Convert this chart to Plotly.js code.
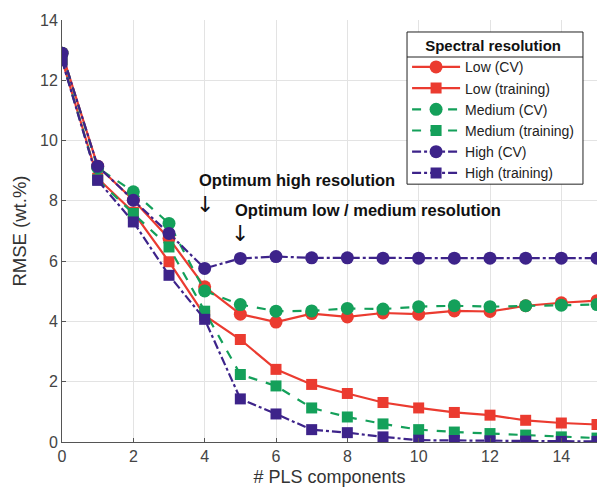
<!DOCTYPE html>
<html><head><meta charset="utf-8">
<script src="https://cdn.plot.ly/plotly-3.0.1.min.js"></script>
<style>html,body{margin:0;padding:0;background:#fff}</style>
</head><body><div id="chart" style="width:597px;height:492px"></div>
<script>
const components = [0,1,2,3,4,5,6,7,8,9,10,11,12,13,14,15];
const lowCV = [12.9,9.15,8.03,6.75,5.15,4.24,3.98,4.26,4.15,4.28,4.24,4.35,4.33,4.52,4.62,4.69];
const lowTrain = [12.68,8.75,7.62,5.98,4.2,3.4,2.41,1.91,1.61,1.31,1.13,0.98,0.89,0.72,0.63,0.58];
const medCV = [12.9,9.1,8.3,7.25,5.01,4.56,4.34,4.35,4.43,4.41,4.49,4.52,4.49,4.52,4.54,4.56];
const medTrain = [12.68,8.7,7.58,6.47,4.34,2.24,1.86,1.13,0.83,0.6,0.41,0.33,0.28,0.23,0.17,0.13];
const highCV = [12.9,9.15,8.02,6.92,5.76,6.09,6.15,6.11,6.11,6.1,6.1,6.1,6.1,6.1,6.1,6.1];
const highTrain = [12.66,8.68,7.3,5.53,4.07,1.43,0.93,0.41,0.31,0.17,0.06,0.05,0.04,0.03,0.02,0.02];
const seriesNames = ["Low (CV)","Low (training)","Medium (CV)","Medium (training)","High (CV)","High (training)"];
const legendTitle = "Spectral resolution";
const annHigh = {x:4, label:"Optimum high resolution"};
const annLow = {x:5, label:"Optimum low / medium resolution"};

const RED = "#eb3b30", GREEN = "#14a05a", PURPLE = "#3d238a";
function tr(y, name, color, dash, symbol){
  return {x: components, y: y, name: name, type: "scatter", mode: "lines+markers",
    line: {color: color, width: 2.2, dash: dash},
    marker: {color: color, symbol: symbol, size: symbol==="circle"?13:11},
    cliponaxis: true};
}
const data = [
  tr(lowCV, seriesNames[0], RED, "solid", "circle"),
  tr(lowTrain, seriesNames[1], RED, "solid", "square"),
  tr(medCV, seriesNames[2], GREEN, "dash", "circle"),
  tr(medTrain, seriesNames[3], GREEN, "dash", "square"),
  tr(highCV, seriesNames[4], PURPLE, "dashdot", "circle"),
  tr(highTrain, seriesNames[5], PURPLE, "dashdot", "square")
];
const font = "Liberation Sans, Arial, sans-serif";
const arrowFont = {family: "DejaVu Sans", size: 22, color: "#111"};
const layout = {
  width: 597, height: 492,
  margin: {l: 62, r: 0, t: 20, b: 50},
  paper_bgcolor: "#fff", plot_bgcolor: "#fff",
  font: {family: font, color: "#333", size: 15},
  showlegend: true,
  legend: {x: 0.645, y: 0.972, xanchor: "left", yanchor: "top",
    bgcolor: "rgba(0,0,0,0)", borderwidth: 0, itemwidth: 48,
    font: {family: font, size: 14, color: "#222"},
    title: {text: "<b>" + legendTitle + "</b>", side: "top center", font: {size: 15, color: "#111"}},
    tracegroupgap: 0},
  shapes: [
    {type: "rect", xref: "paper", yref: "paper", x0: 0.6449, x1: 0.9738, y0: 0.611, y1: 0.9716,
      fillcolor: "#fff", line: {color: "#222", width: 1}, layer: "above"},
    {type: "line", xref: "paper", yref: "paper", x0: 0.6449, x1: 0.9738, y0: 0.9123, y1: 0.9123,
      line: {color: "#222", width: 1}, layer: "above"}
  ],
  xaxis: {range: [0, 15], tickvals: [0,2,4,6,8,10,12,14], showgrid: true, gridcolor: "#e3e3e3",
    zeroline: false, showline: true, linecolor: "#555", linewidth: 1, ticks: "inside", ticklen: 4, tickcolor: "#555",
    tickfont: {size: 16, color: "#444"},
    title: {text: "# PLS components", font: {size: 18, color: "#333"}, standoff: 6}},
  yaxis: {range: [0, 14], tickvals: [0,2,4,6,8,10,12,14], showgrid: true, gridcolor: "#e3e3e3",
    zeroline: false, showline: true, linecolor: "#555", linewidth: 1, ticks: "inside", ticklen: 4, tickcolor: "#555",
    tickfont: {size: 16, color: "#444"},
    title: {text: "RMSE (wt.%)", font: {size: 18.5, color: "#333"}, standoff: 8}},
  annotations: [
    {x: 3.79, y: 8.69, xref: "x", yref: "y", text: "<b>" + annHigh.label + "</b>", showarrow: false,
      xanchor: "left", yanchor: "middle", font: {size: 16.5, color: "#111"}},
    {x: annHigh.x, y: 7.89, xref: "x", yref: "y", text: "↓", showarrow: false,
      xanchor: "center", yanchor: "middle", font: arrowFont},
    {x: 4.79, y: 7.70, xref: "x", yref: "y", text: "<b>" + annLow.label + "</b>", showarrow: false,
      xanchor: "left", yanchor: "middle", font: {size: 16.5, color: "#111"}},
    {x: annLow.x, y: 6.93, xref: "x", yref: "y", text: "↓", showarrow: false,
      xanchor: "center", yanchor: "middle", font: arrowFont}
  ]
};
Plotly.newPlot("chart", data, layout, {displayModeBar: false, staticPlot: true});
</script></body></html>
